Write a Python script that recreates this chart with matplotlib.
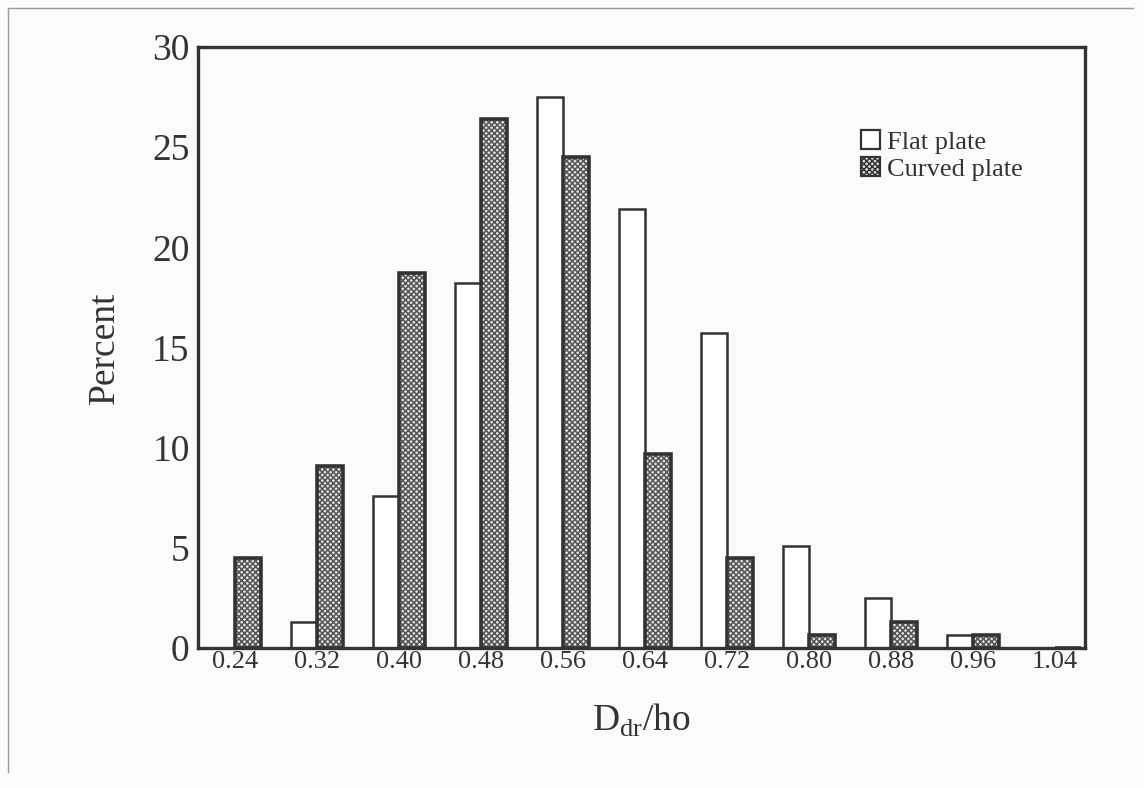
import matplotlib
matplotlib.use("Agg")
import matplotlib.pyplot as plt
from matplotlib.lines import Line2D
from matplotlib.patches import Patch
import numpy as np

# Relative frequency of D_dr/ho for the two plate shapes
bins = [0.24, 0.32, 0.40, 0.48, 0.56, 0.64, 0.72, 0.80, 0.88, 0.96, 1.04]
bin_labels = ["0.24", "0.32", "0.40", "0.48", "0.56", "0.64", "0.72", "0.80", "0.88", "0.96", "1.04"]
flat_plate = [0.0, 1.3, 7.6, 18.2, 27.5, 21.9, 15.7, 5.1, 2.5, 0.65, 0.0]
curved_plate = [4.5, 9.1, 18.7, 26.4, 24.5, 9.7, 4.5, 0.65, 1.3, 0.65, 0.0]
y_ticks = [0, 5, 10, 15, 20, 25, 30]

plt.rcParams["font.family"] = ["Liberation Serif", "DejaVu Serif"]
plt.rcParams["hatch.linewidth"] = 1.1

bg = "#fbfbf9"
ink = "#333333"

fig = plt.figure(figsize=(11.44, 7.88), dpi=100, facecolor=bg)
ax = fig.add_axes([0.1731, 0.1777, 0.7753, 0.7627], facecolor=bg)

x = np.array(bins)
w = 0.025
ax.bar(x - w / 2, flat_plate, width=w, facecolor="white", edgecolor=ink,
       linewidth=1.8, zorder=2)
# dense checker fill, then a dark outline on top
ax.bar(x + w / 2, curved_plate, width=w, facecolor="#e2e2e2", edgecolor="#555555",
       hatch="xxxxxx", linewidth=0, zorder=2)
ax.bar(x + w / 2, curved_plate, width=w, facecolor="none", edgecolor=ink,
       linewidth=2.6, zorder=3)

ax.set_xlim(0.2039, 1.0693)
ax.set_ylim(0, 30)
ax.set_xticks(bins)
ax.set_xticklabels(bin_labels, fontsize=19, color=ink)
ax.set_yticks(y_ticks)
ax.set_yticklabels([str(t) for t in y_ticks], fontsize=27, color=ink)
ax.tick_params(axis="both", length=0)
ax.tick_params(axis="x", pad=2)
ax.tick_params(axis="y", pad=6)

for s in ax.spines.values():
    s.set_linewidth(2.4)
    s.set_color(ink)

ax.set_ylabel("Percent", fontsize=27, color=ink, labelpad=22)
ax.set_xlabel(r"D$_{\mathregular{dr}}$/ho", fontsize=27, color=ink, labelpad=21)

# legend keys built from the same bar styles
handles = [
    Patch(facecolor="white", edgecolor=ink, linewidth=1.6),
    Patch(facecolor="#e2e2e2", edgecolor=ink, hatch="xxxxxx", linewidth=1.6),
]
leg = ax.legend(handles, ["Flat plate", "Curved plate"], loc="upper left",
                bbox_to_anchor=(0.748, 0.862), frameon=False,
                fontsize=19, handlelength=0.72, handleheight=0.72,
                handletextpad=0.25, labelspacing=0.15, borderaxespad=0, borderpad=0)
for t in leg.get_texts():
    t.set_color(ink)

# thin page frame along the top and left edges
fig.add_artist(Line2D([8 / 1144, 8 / 1144], [1 - 8 / 788, 0.02], transform=fig.transFigure,
                      color="#9a9a9a", linewidth=1.0))
fig.add_artist(Line2D([8 / 1144, 0.99], [1 - 8 / 788, 1 - 8 / 788], transform=fig.transFigure,
                      color="#9a9a9a", linewidth=1.0))

fig.savefig("out.png", dpi=100, facecolor=bg)
